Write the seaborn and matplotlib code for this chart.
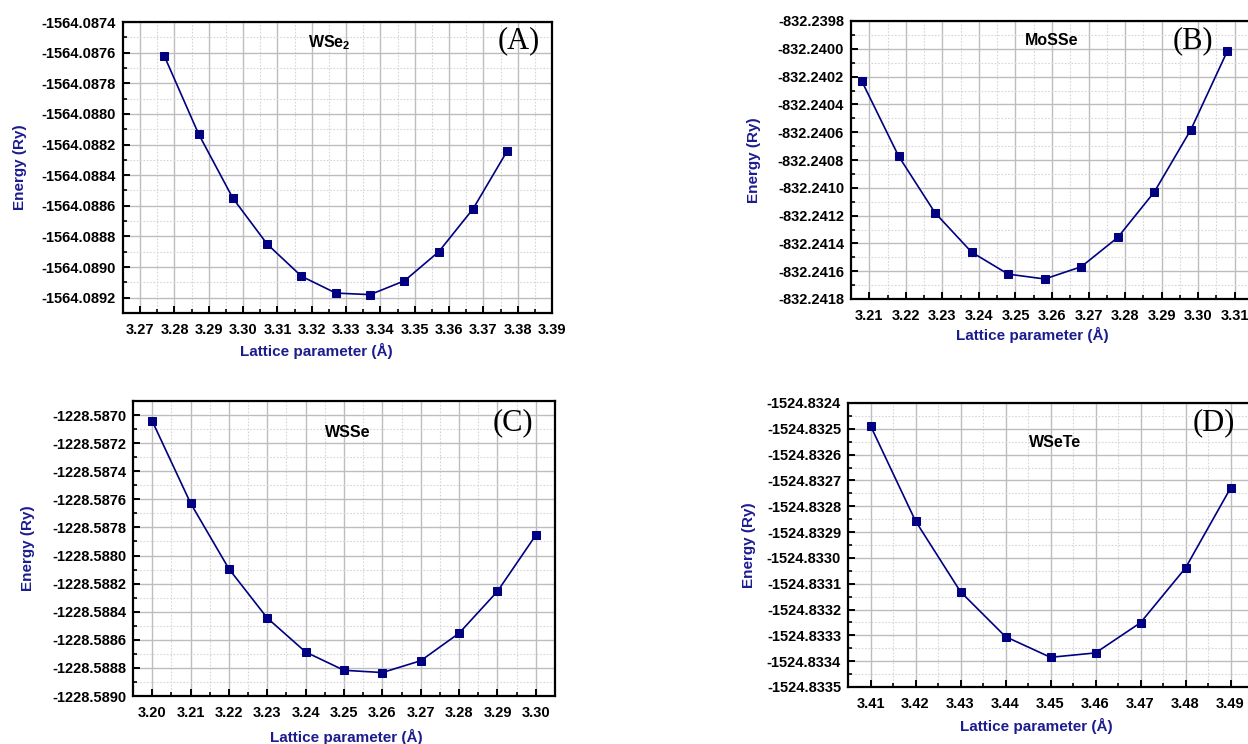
import numpy as np
import pandas as pd
import seaborn as sns
import matplotlib
matplotlib.use("Agg")
import matplotlib.pyplot as plt
from matplotlib.ticker import MultipleLocator, AutoMinorLocator, FormatStrFormatter

# ---- data: lattice parameter (Å) vs total energy (Ry) ----
wse2_a = [3.277, 3.287, 3.297, 3.307, 3.317, 3.327, 3.337, 3.347, 3.357, 3.367, 3.377]
wse2_e = [-1564.08762, -1564.08813, -1564.08855, -1564.08885, -1564.08906, -1564.08917,
          -1564.08918, -1564.08909, -1564.08890, -1564.08862, -1564.08824]

mosse_a = [3.208, 3.218, 3.228, 3.238, 3.248, 3.258, 3.268, 3.278, 3.288, 3.298, 3.308]
mosse_e = [-832.240235, -832.240771, -832.241180, -832.241463, -832.241621, -832.241656,
           -832.241568, -832.241357, -832.241030, -832.240582, -832.240015]

wsse_a = [3.20, 3.21, 3.22, 3.23, 3.24, 3.25, 3.26, 3.27, 3.28, 3.29, 3.30]
wsse_e = [-1228.587042, -1228.587627, -1228.588095, -1228.588445, -1228.588687, -1228.588817,
          -1228.588833, -1228.588749, -1228.588553, -1228.588255, -1228.587855]

wsete_a = [3.41, 3.42, 3.43, 3.44, 3.45, 3.46, 3.47, 3.48, 3.49]
wsete_e = [-1524.832488, -1524.832857, -1524.833131, -1524.833305, -1524.833385,
           -1524.833368, -1524.833251, -1524.833039, -1524.832730]

compounds = [r"$\mathbf{WSe_2}$", "MoSSe", "WSSe", "WSeTe"]
panel_tags = ["(A)", "(B)", "(C)", "(D)"]

sns.set_theme(style="white")
plt.rcParams["font.family"] = ["Liberation Sans", "DejaVu Sans"]
plt.rcParams["mathtext.fontset"] = "custom"
plt.rcParams["mathtext.rm"] = "Liberation Sans"
plt.rcParams["mathtext.bf"] = "Liberation Sans:bold"

NAVY = "#000080"
LABEL_BLUE = "#1c1c8f"

fig = plt.figure(figsize=(12.48, 7.44), dpi=100)
W, H = 1248, 744


def box(left, top, right, bottom):
    return [left / W, 1 - bottom / H, (right - left) / W, (bottom - top) / H]


panels = [
    dict(rect=box(123, 22, 552, 313), a=wse2_a, e=wse2_e, xlim=(3.265, 3.39),
         ylim=(-1564.08930, -1564.0874), ystep=0.0002, name_xy=(0.48, 0.93),
         tag_xy=(0.923, 0.935), ylab_x=-0.224, xlab_y=-0.103, xlab_x=0.45),
    dict(rect=box(851, 21, 1253, 299), a=mosse_a, e=mosse_e, xlim=(3.205, 3.315),
         ylim=(-832.2418, -832.2398), ystep=0.0002, name_xy=(0.50, 0.93),
         tag_xy=(0.85, 0.93), ylab_x=-0.224, xlab_y=-0.10, xlab_x=0.45),
    dict(rect=box(133, 401, 555, 696), a=wsse_a, e=wsse_e, xlim=(3.195, 3.305),
         ylim=(-1228.5890, -1228.5869), ystep=0.0002, name_xy=(0.51, 0.894),
         tag_xy=(0.90, 0.925), ylab_x=-0.232, xlab_y=-0.11, xlab_x=0.505),
    dict(rect=box(848, 403, 1253, 687), a=wsete_a, e=wsete_e, xlim=(3.405, 3.495),
         ylim=(-1524.8335, -1524.8324), ystep=0.0001, name_xy=(0.51, 0.86),
         tag_xy=(0.904, 0.93), ylab_x=-0.227, xlab_y=-0.109, xlab_x=0.464),
]

for p, name, tag in zip(panels, compounds, panel_tags):
    ax = fig.add_axes(p["rect"])
    df = pd.DataFrame({"a": p["a"], "E": p["e"]})
    sns.lineplot(data=df, x="a", y="E", ax=ax, color=NAVY, lw=1.2, marker="s",
                 markersize=5.6, markeredgecolor=NAVY, markerfacecolor=NAVY, zorder=3)
    ax.set_xlim(*p["xlim"])
    ax.set_ylim(*p["ylim"])

    ax.xaxis.set_major_locator(MultipleLocator(0.01))
    ax.xaxis.set_minor_locator(AutoMinorLocator(2))
    ax.yaxis.set_major_locator(MultipleLocator(p["ystep"]))
    ax.yaxis.set_minor_locator(AutoMinorLocator(2))
    ax.xaxis.set_major_formatter(FormatStrFormatter("%.2f"))
    ax.yaxis.set_major_formatter(FormatStrFormatter("%.4f"))

    ax.grid(which="major", color="#bdbdbd", lw=1.0, ls="-", zorder=0)
    ax.grid(which="minor", color="#d6d6d6", lw=0.8, ls=(0, (1.5, 1.5)), zorder=0)
    ax.set_axisbelow(True)

    for s in ax.spines.values():
        s.set_color("black")
        s.set_linewidth(1.6)
        s.set_visible(True)

    ax.tick_params(which="major", direction="in", length=5, width=1.4, color="black",
                   labelsize=10.5, top=False, right=False, bottom=True, left=True)
    ax.tick_params(axis="y", which="major", pad=5)
    ax.tick_params(axis="x", which="major", pad=7)
    ax.tick_params(which="minor", direction="in", length=3, width=1.2, color="black",
                   top=False, right=False, bottom=True, left=True)
    for lab in ax.get_xticklabels() + ax.get_yticklabels():
        lab.set_fontweight("bold")
        lab.set_color("black")

    ax.set_xlabel("Lattice parameter (Å)", fontsize=11, fontweight="bold", color=LABEL_BLUE)
    ax.set_ylabel("Energy (Ry)", fontsize=11, fontweight="bold", color=LABEL_BLUE)
    ax.yaxis.set_label_coords(p["ylab_x"], 0.5)
    ax.xaxis.set_label_coords(p["xlab_x"], p["xlab_y"])

    ax.text(*p["name_xy"], name, transform=ax.transAxes, ha="center", va="center",
            fontsize=11.5, fontweight="bold", color="black")
    ax.text(*p["tag_xy"], tag, transform=ax.transAxes, ha="center", va="center",
            fontsize=22, family="Liberation Serif", color="black")

fig.savefig("out.png", dpi=100)
